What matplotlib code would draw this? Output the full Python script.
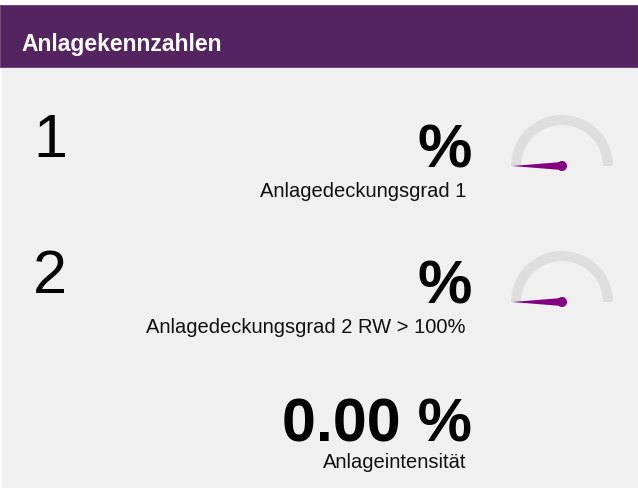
import matplotlib.pyplot as plt
from matplotlib.patches import Rectangle, Wedge, Polygon, Circle
import numpy as np

plt.rcParams['font.family'] = ['Liberation Sans', 'DejaVu Sans']

# data
title = 'Anlagekennzahlen'
kpi_numbers = ['1', '2']
kpi_values = ['%', '%', '0.00 %']
kpi_labels = ['Anlagedeckungsgrad 1', 'Anlagedeckungsgrad 2 RW > 100%', 'Anlageintensität']
gauge_values = [0, 0]
gauge_max = 100

W, H = 638, 488
fig = plt.figure(figsize=(W / 100, H / 100), dpi=100, facecolor='white')
ax = fig.add_axes([0, 0, 1, 1])
ax.set_xlim(0, W)
ax.set_ylim(H, 0)
ax.axis('off')

# panel background and header
ax.add_patch(Rectangle((2, 5), W - 2, H - 5, facecolor='#f0f0f0', edgecolor='none'))
ax.add_patch(Rectangle((0, 5), W, 62, facecolor='#53245f', edgecolor='#6e4a7a', lw=0.8))
ax.text(21, 44, title, color='white', fontsize=16.5, fontweight='bold', va='center', ha='left')

# rows: y of big value baseline, label baseline, gauge center
val_base = [167, 303, 441]
lab_base = [197, 333, 468]
gauge_cy = [166, 302]

for i, n in enumerate(kpi_numbers):
    ax.text(33, val_base[i] - 10, n, fontsize=44, va='baseline', ha='left', color='black')

for i, v in enumerate(kpi_values):
    ax.text(472, val_base[i], v, fontsize=44, fontweight='bold', va='baseline', ha='right', color='black')
    ax.text(466, lab_base[i], kpi_labels[i], fontsize=14.5, va='baseline', ha='right', color='#111111')

cx = 562
r_out, r_in = 51, 41
for i, g in enumerate(gauge_values):
    cy = gauge_cy[i]
    ax.add_patch(Wedge((cx, cy), r_out, 180, 360, width=r_out - r_in, facecolor='#dedede', edgecolor='none'))
    ang = np.pi * (1 - g / gauge_max)
    dx, dy = np.cos(ang), -np.sin(ang)
    L = 50
    px, py = -dy, dx
    tip = (cx + L * dx, cy + L * dy)
    b1 = (cx + 4 * px, cy + 4 * py)
    b2 = (cx - 4 * px, cy - 4 * py)
    ax.add_patch(Polygon([tip, b1, b2], closed=True, facecolor='#800080', edgecolor='none'))
    ax.add_patch(Circle((cx, cy), 5, facecolor='#800080', edgecolor='none'))

fig.savefig('out.png', dpi=100, facecolor=fig.get_facecolor())
